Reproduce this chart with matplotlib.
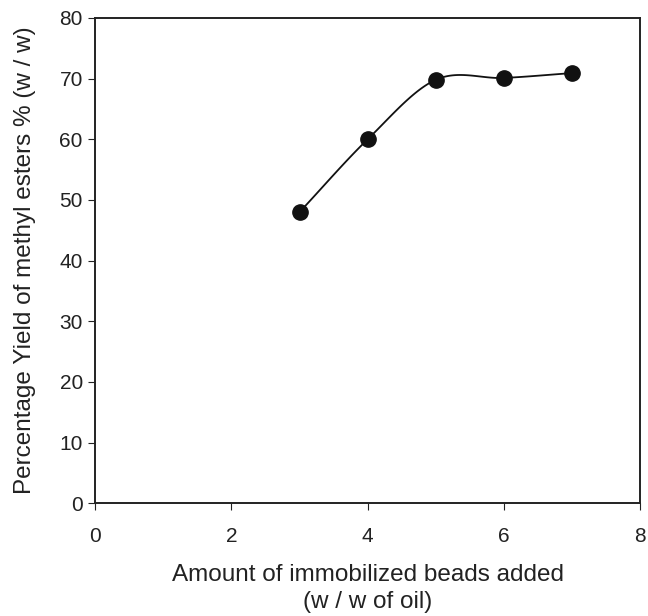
import numpy as np
import matplotlib.pyplot as plt

plt.rcParams['font.family'] = ['Liberation Sans', 'DejaVu Sans']

# beads added (w/w of oil) vs yield of methyl esters (%)
beads = [3, 4, 5, 6, 7]
yield_pct = [48, 60, 69.8, 70.1, 70.9]


def smooth_curve(x, y, n=30):
    # Catmull-Rom style smoothing, similar to a spreadsheet "smoothed line"
    x = np.asarray(x, float)
    y = np.asarray(y, float)
    px = np.concatenate([[2 * x[0] - x[1]], x, [2 * x[-1] - x[-2]]])
    py = np.concatenate([[2 * y[0] - y[1]], y, [2 * y[-1] - y[-2]]])
    t = np.linspace(0, 1, n)
    xs, ys = [], []
    for i in range(1, len(px) - 2):
        for p, out in ((px, xs), (py, ys)):
            p0, p1, p2, p3 = p[i - 1], p[i], p[i + 1], p[i + 2]
            out.extend(0.5 * (2 * p1 + (-p0 + p2) * t
                              + (2 * p0 - 5 * p1 + 4 * p2 - p3) * t ** 2
                              + (-p0 + 3 * p1 - 3 * p2 + p3) * t ** 3))
    return np.array(xs), np.array(ys)


fig = plt.figure(figsize=(6.48, 6.16), dpi=100)
ax = fig.add_axes([0.147, 0.183, 0.841, 0.788])

sx, sy = smooth_curve(beads, yield_pct)
ax.plot(sx, sy, color='#111111', lw=1.3)
ax.plot(beads, yield_pct, 'o', color='#111111', markersize=11)

ax.set_xlim(0, 8)
ax.set_ylim(0, 80)
ax.set_xticks(range(0, 9, 2))
ax.set_yticks(range(0, 81, 10))
ax.tick_params(labelsize=15, colors='#222222', length=5, width=0.8)
ax.tick_params(axis='x', pad=12)
ax.tick_params(axis='y', pad=4)
for s in ax.spines.values():
    s.set_linewidth(1.4)
    s.set_color('#222222')

ax.set_xlabel('Amount of immobilized beads added\n(w / w of oil)', fontsize=17.5,
              color='#222222', labelpad=13, linespacing=1.3)
ax.set_ylabel('Percentage Yield of methyl esters % (w / w)', fontsize=17.5,
              color='#222222', labelpad=17)

fig.savefig('out.png', dpi=100)
